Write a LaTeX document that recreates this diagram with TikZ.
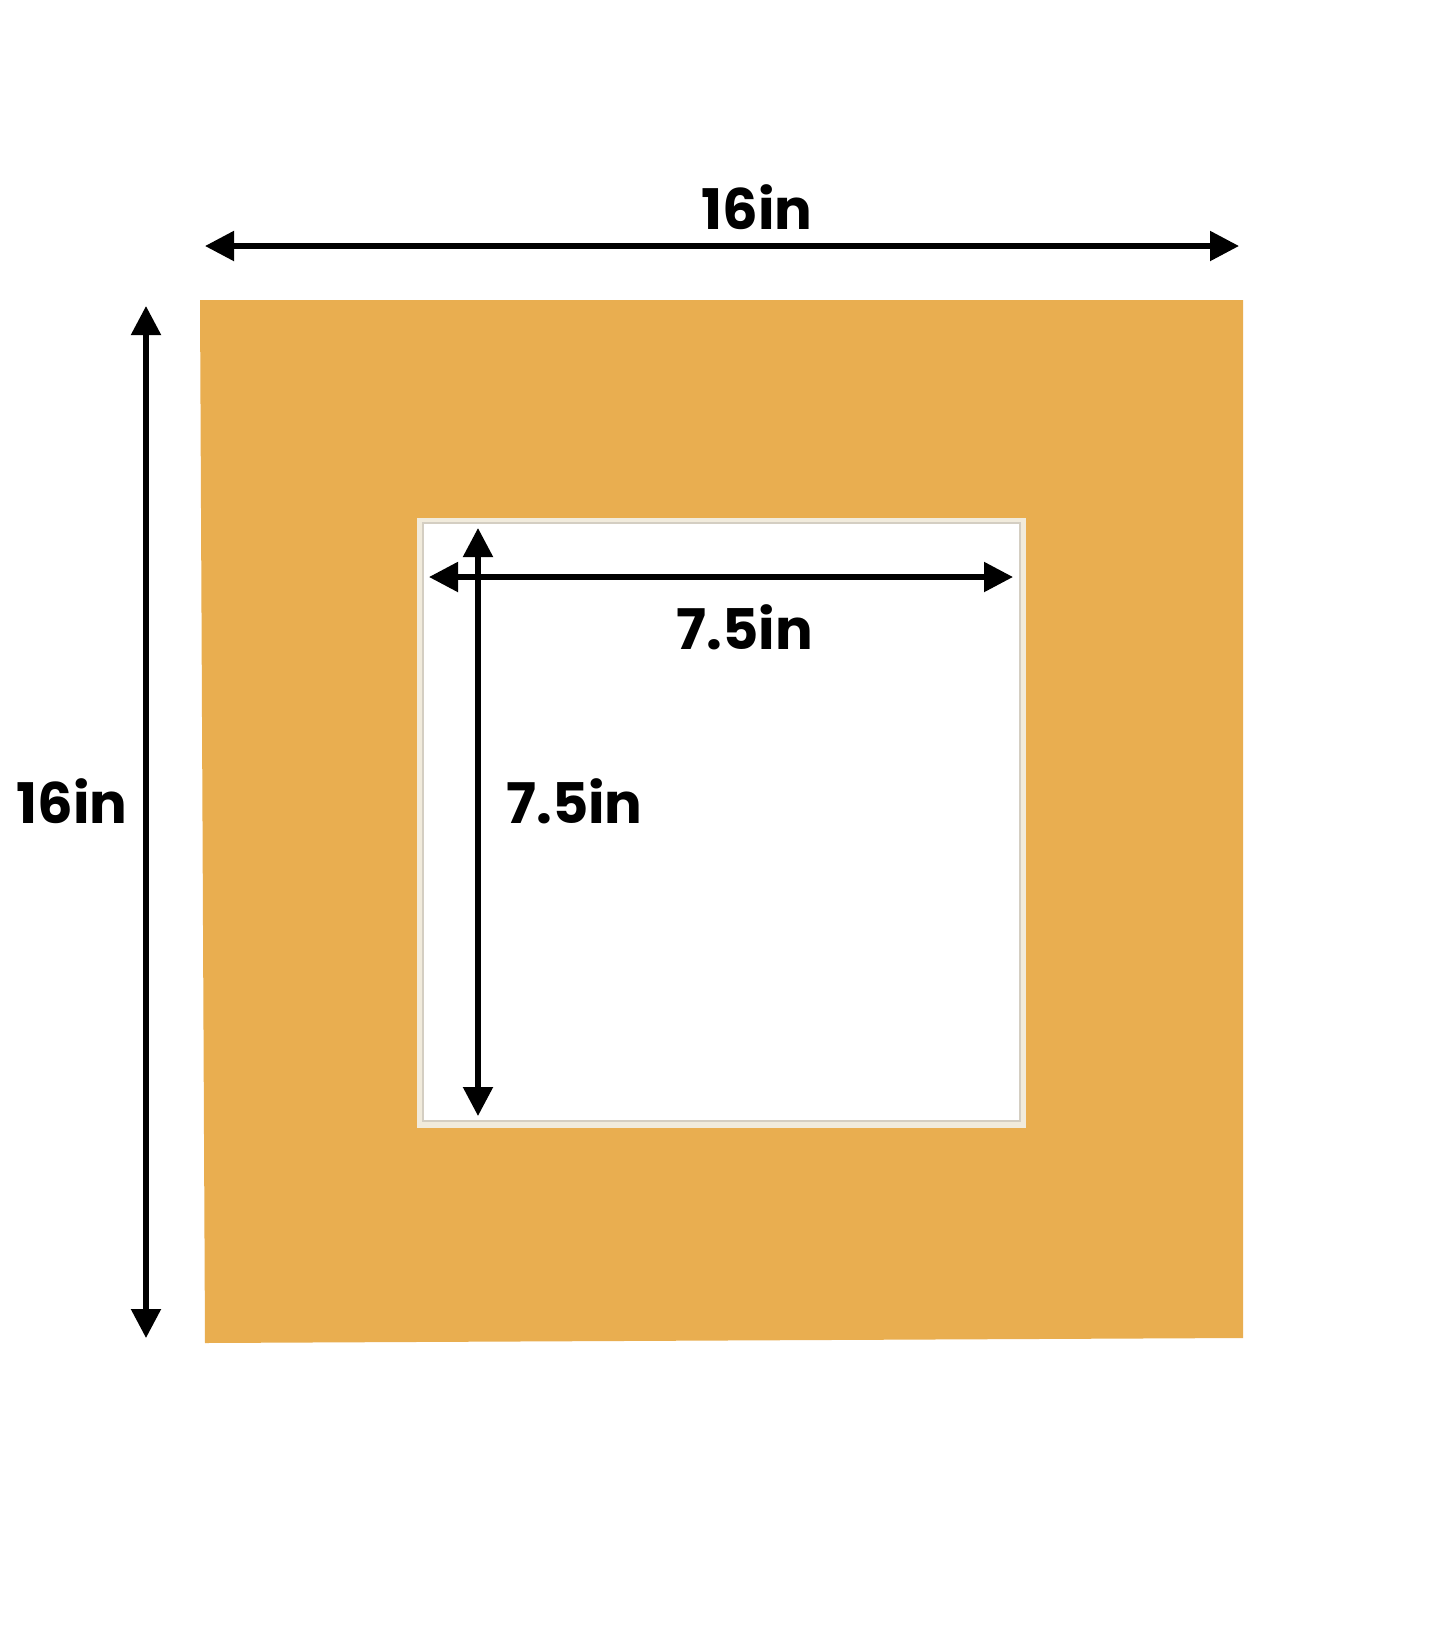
\documentclass[tikz,border=0pt]{standalone}
\usepackage{fontspec}
\setmainfont{Poppins}
\usetikzlibrary{arrows.meta}
\definecolor{mat}{RGB}{233,174,80}
\definecolor{bevel}{RGB}{241,235,220}
\definecolor{bevelline}{RGB}{212,206,194}
\begin{document}
\begin{tikzpicture}[x=0.5pt,y=-0.5pt,
  dim/.style={line width=2.65pt,
    {Triangle[length=14.5pt,width=14.5pt]}-{Triangle[length=14.5pt,width=14.5pt]}},
  lbl/.style={font=\bfseries\fontsize{28}{30}\selectfont, anchor=base, inner sep=0pt}]
\useasboundingbox (0,0) rectangle (1445,1645);
\fill[white] (0,0) rectangle (1445,1645);
% mat board
\fill[mat] (200,300) -- (1243,300) -- (1243,1338) -- (205,1343) -- cycle;
% bevel and window
\fill[bevel] (417,518) rectangle (1026,1128);
\fill[white] (423,523) rectangle (1020,1121);
\draw[bevelline, line width=0.6pt] (423,523) rectangle (1020,1121);
% arrow end points
\coordinate (tl) at (205,246);
\coordinate (tr) at (1239,246);
\coordinate (lt) at (146,306);
\coordinate (lb) at (146,1338);
\coordinate (it) at (478,528);
\coordinate (ib) at (478,1116);
\coordinate (il) at (429,577);
\coordinate (ir) at (1013,577);
\draw[dim] (tl) -- (tr);
\draw[dim] (lt) -- (lb);
\draw[dim] (it) -- (ib);
\draw[dim] (il) -- (ir);
% labels
\node[lbl] (topw) at (757,229) {16in};
\node[lbl] (lefth) at (72,823) {16in};
\node[lbl] (innw) at (745,649) {7.5in};
\node[lbl] (innh) at (574.5,823) {7.5in};
\end{tikzpicture}
\end{document}
